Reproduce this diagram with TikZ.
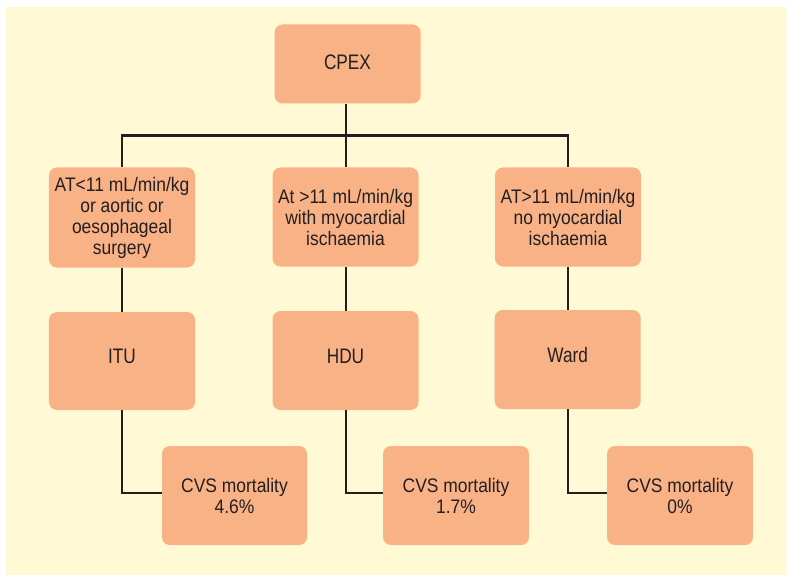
\documentclass[tikz,border=0pt]{standalone}
\usepackage{fontspec}
\setmainfont{Liberation Sans}
\newfontfamily\boxfont[FakeStretch=0.89]{Liberation Sans}
\newfontfamily\wordfont[FakeStretch=0.82]{Liberation Sans}
\definecolor{paper}{HTML}{FFF9D6}
\definecolor{boxfill}{HTML}{F9B286}
\definecolor{ink}{HTML}{231F20}
\tikzset{
  stage/.style={fill=boxfill, draw=none, rounded corners=8bp, inner sep=0pt,
    align=center, text=ink,
    font=\boxfont\fontsize{19.6bp}{21bp}\selectfont},
  wordbox/.style={stage, font=\wordfont\fontsize{21bp}{22bp}\selectfont},
  carebox/.style={wordbox, text height=15bp, text depth=10bp},
  link/.style={draw=ink, line width=2.4bp},
}
\begin{document}
\begin{tikzpicture}[x=1bp, y=-1bp]
  \useasboundingbox (0,0) rectangle (787,575);
  \fill[paper] (6,7.5) rectangle (787,575);

  % top
  \node[wordbox, minimum width=146bp, minimum height=79bp, text height=15bp, text depth=4bp]
    (cpex) at (347.5,64) {CPEX};

  % assessment outcome
  \node[stage, minimum width=146bp, minimum height=100bp] (low) at (122,217.5)
    {AT<11 mL/min/kg\\or aortic or\\oesophageal\\surgery};
  \node[stage, minimum width=146bp, minimum height=99bp] (isch) at (345.5,217)
    {At >11 mL/min/kg\\with myocardial\\ischaemia};
  \node[stage, minimum width=146bp, minimum height=99bp] (fit) at (568,217)
    {AT>11 mL/min/kg\\no myocardial\\ischaemia};

  % level of care
  \node[carebox, minimum width=146bp, minimum height=98bp] (itu) at (122,361) {ITU};
  \node[carebox, minimum width=146bp, minimum height=99bp] (hdu) at (345.5,360.5) {HDU};
  \node[carebox, minimum width=146bp, minimum height=99bp] (ward) at (567.7,359.5) {Ward};

  % outcomes
  \node[stage, minimum width=145bp, minimum height=99bp] (mA) at (234.5,495.5) {CVS mortality\\4.6\%};
  \node[stage, minimum width=146bp, minimum height=99bp] (mB) at (456,495.5) {CVS mortality\\1.7\%};
  \node[stage, minimum width=146bp, minimum height=99bp] (mC) at (680,495.5) {CVS mortality\\0\%};

  % connectors
  \coordinate (bus) at (346,135.7);
  \draw[link] (cpex.south -| bus) -- (bus);
  \draw[link] (low.north) |- (bus) -| (fit.north);
  \draw[link] (bus) -- (bus |- isch.north);
  \draw[link] (low.south) -- (itu.north);
  \draw[link] (isch.south -| bus) -- (bus |- hdu.north);
  \draw[link] (fit.south) -- (fit.south |- ward.north);
  \draw[link] (itu.south) |- ([yshift=2.5bp]mA.west);
  \draw[link] (hdu.south -| bus) |- ([yshift=2.5bp]mB.west);
  \draw[link] (fit.south |- ward.south) |- ([yshift=2.5bp]mC.west);
\end{tikzpicture}
\end{document}
